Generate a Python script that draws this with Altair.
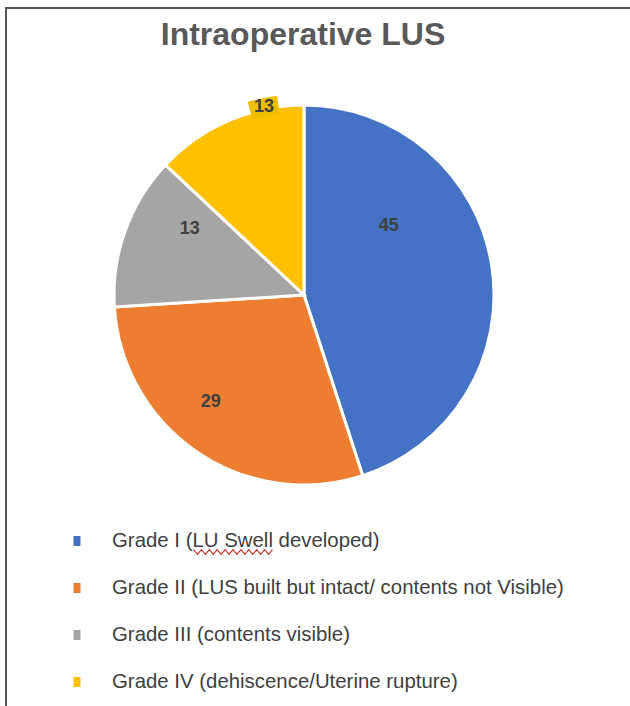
import altair as alt
import pandas as pd

categories = [
    "Grade I (LU Swell developed)",
    "Grade II (LUS built but intact/ contents not Visible)",
    "Grade III (contents visible)",
    "Grade IV (dehiscence/Uterine rupture)",
]
values = [45, 29, 13, 13]
colors = ["#4472C4", "#ED7D31", "#A5A5A5", "#FFC000"]
label_angle = [51, 221, 300, 348]      # degrees clockwise from 12 o'clock
label_radius = [109, 142, 132, 192]
highlighted = [False, False, False, True]

df = pd.DataFrame({"cat": categories, "value": values, "order": range(4)})
lab = pd.DataFrame({
    "cat": categories,
    "value": values,
    "ang": label_angle,
    "rad": label_radius,
    "hl": highlighted,
})
lab["ang1"] = lab["ang"] - 4.3
lab["ang2"] = lab["ang"] + 4.3
lab["rad1"] = lab["rad"] - 9
lab["rad2"] = lab["rad"] + 9

CX, CY, R = 304, 295, 190
W, H = 630, 706

color_scale = alt.Scale(domain=categories, range=colors)

pie = alt.Chart(df).mark_arc(
    radius=R, x=CX, y=CY, stroke="white", strokeWidth=3
).encode(
    theta=alt.Theta("value:Q", stack=True),
    color=alt.Color("cat:N", scale=color_scale, legend=None),
    order=alt.Order("order:Q"),
)

deg = alt.Scale(domain=[0, 360], range=[0, 6.283185])

hl = alt.Chart(lab).transform_filter("datum.hl").mark_arc(
    x=CX, y=CY, color="#EDBE00"
).encode(
    theta=alt.Theta("ang1:Q", stack=None, scale=deg), theta2="ang2:Q",
    radius=alt.Radius("rad1:Q", scale=None), radius2="rad2:Q",
)

labels = alt.Chart(lab).mark_text(
    x=CX, y=CY, font="Liberation Sans", fontSize=18, fontWeight="bold",
    color="#404040", align="center", baseline="middle"
).encode(
    theta=alt.Theta("ang:Q", stack=None, scale=deg),
    radius=alt.Radius("rad:Q", scale=None),
    text="value:Q",
)

labels_layer = alt.layer(hl, labels)

yscale = alt.Scale(domain=[0, 3], range=[541, 682])
leg_marks = alt.Chart(df).mark_point(
    shape="M-0.7,-1L0.7,-1L0.7,1L-0.7,1Z", filled=True, opacity=1, size=100, x=77
).encode(
    y=alt.Y("order:Q", scale=yscale, axis=None),
    color=alt.Color("cat:N", scale=color_scale, legend=None),
)
leg_text = alt.Chart(df).mark_text(
    x=112, align="left", baseline="middle", font="Liberation Sans",
    fontSize=20.4, color="#3f3f3f"
).encode(
    y=alt.Y("order:Q", scale=yscale, axis=None),
    text="cat:N",
)

# spell-check squiggle under "LU Swell"
n = 20
pts = []
for i in range(n + 1):
    xx = -1 + 2 * i / n
    yy = -0.06 if i % 2 == 0 else 0.06
    pts.append(f"{xx:.3f},{yy:.3f}")
zig = "M" + "L".join(pts)
squiggle = alt.Chart(df.iloc[:1]).mark_point(
    shape=zig, filled=False, stroke="#D9302C", strokeWidth=1.2, opacity=1,
    size=79 * 79, x=233
).encode(y=alt.Y("order:Q", scale=yscale, axis=None), yOffset=alt.value(11))

title = alt.Chart(pd.DataFrame({"t": ["Intraoperative LUS"]})).mark_text(
    x=303, y=35, align="center", baseline="middle", font="Liberation Sans",
    fontSize=32, fontWeight="bold", color="#595959"
).encode(text="t:N")

frame_top = alt.Chart(pd.DataFrame({"a": [0]})).mark_rule(
    color="#555555", strokeWidth=2
).encode(x=alt.value(5), x2=alt.value(W), y=alt.value(8))
frame_left = alt.Chart(pd.DataFrame({"a": [0]})).mark_rule(
    color="#555555", strokeWidth=2
).encode(x=alt.value(6), y=alt.value(8), y2=alt.value(H))

chart = alt.layer(
    pie, labels_layer, leg_marks, leg_text, squiggle, title, frame_top, frame_left
).resolve_scale(theta="independent", radius="independent").properties(
    width=W, height=H, padding=0, autosize=alt.AutoSizeParams(type="none"),
    background="white",
).configure_view(stroke=None)

chart.save("out.html", embed_options={"renderer": "svg", "actions": False})
